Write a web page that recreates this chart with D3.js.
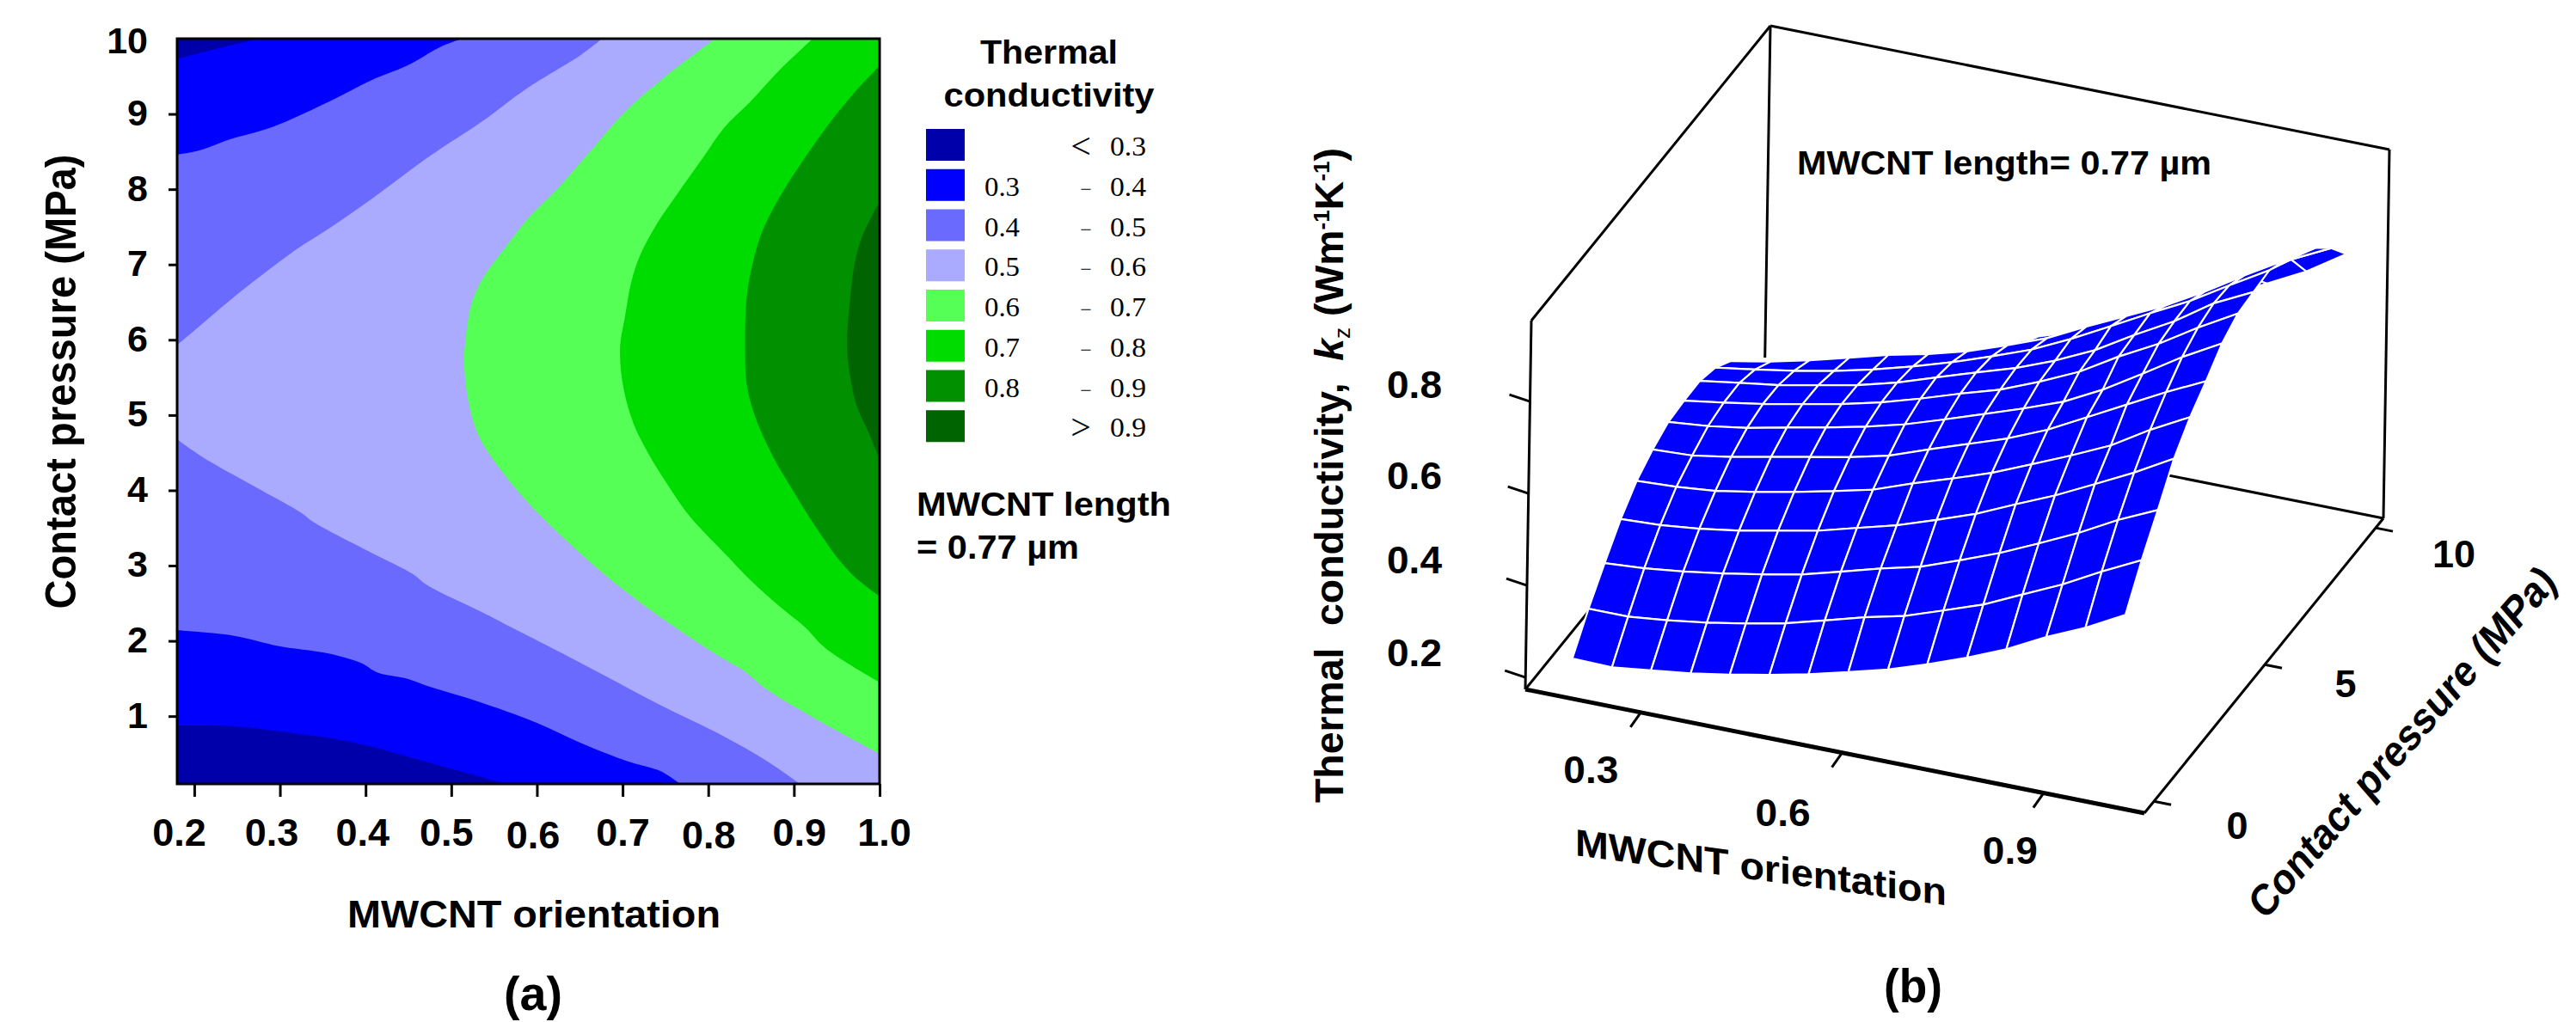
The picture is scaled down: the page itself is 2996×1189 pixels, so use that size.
<!DOCTYPE html>
<html>
<head>
<meta charset="utf-8">
<script src="https://cdn.jsdelivr.net/npm/d3@7"></script>
<style>
  html, body { margin: 0; background: #fff; }
  svg { display: block; }
  text { font-family: "Liberation Sans", Arial, sans-serif; font-weight: bold; fill: #000; }
  .serif { font-family: "Liberation Serif", serif; font-weight: normal; }
</style>
</head>
<body>
<div id="app"></div>
<script>
// contour map: level boundaries as [orientation, pressure]
let band3Top = [[.275,10],[.224,9.86],[.18,9.73]]
let band3Low = [[.18,.874],[.245,.866],[.312,.78],[.373,.68],[.414,.575],[.469,.40],[.516,.25],[.564,.1]]
let band4Top = [[.513,10],[.489,9.9],[.448,9.64],[.407,9.45],[.353,9.14],[.292,8.83],[.241,8.66],[.204,8.51],[.18,8.46]]
let band4Low = [[.18,2.14],[.245,2.07],[.299,1.93],[.353,1.84],[.394,1.71],[.414,1.58],[.448,1.5],[.475,1.39],[.53,1.2],[.598,.92],[.652,.64],[.706,.40],[.744,.27],[.767,.1]]
let band5Top = [[.676,10],[.652,9.79],[.587,9.33],[.536,8.9],[.475,8.44],[.407,7.87],[.36,7.5],[.319,7.2],[.278,6.85],[.238,6.49],[.207,6.19],[.18,5.93]]
let band5Low = [[.18,4.68],[.21,4.44],[.264,4.09],[.325,3.7],[.339,3.58],[.407,3.17],[.455,2.89],[.472,2.74],[.536,2.38],[.57,2.18],[.625,1.86],[.679,1.54],[.747,1.13],[.815,.75],[.869,.40],[.907,.1]]
let band6 = [[.808,10],[.747,9.47],[.703,9.03],[.659,8.46],[.625,8.02],[.591,7.63],[.564,7.24],[.536,6.8],[.523,6.45],[.516,5.93],[.515,5.71],[.52,5.18],[.533,4.7],[.564,4.18],[.601,3.7],[.676,2.91],[.74,2.35],[.815,1.78],[.842,1.6],[.869,1.35],[.923,.98],[1,.5]]
let band7 = [[.922,10],[.883,9.58],[.849,9.16],[.818,8.81],[.794,8.42],[.764,7.94],[.74,7.54],[.72,7.11],[.71,6.76],[.703,6.32],[.697,5.88],[.701,5.36],[.713,4.88],[.73,4.49],[.754,4.05],[.778,3.66],[.822,3.13],[.849,2.81],[.883,2.46],[.913,2.18],[.937,1.9],[1,1.45]]
let band8 = [[1,9.64],[.971,9.29],[.937,8.81],[.91,8.37],[.883,7.89],[.862,7.41],[.852,7.02],[.845,6.58],[.843,5.93],[.845,5.4],[.855,4.97],[.876,4.44],[.896,4.05],[.917,3.66],[.937,3.32],[.951,3.1],[.971,2.85],[1,2.59]]
let band9 = [[1,7.83],[.981,7.41],[.971,7.02],[.966,6.58],[.962,5.93],[.966,5.49],[.974,5.1],[.988,4.75],[1,4.4]]
let bands = [[band3Top, band3Low], [band4Top, band4Low], [band5Top, band5Low], [band6], [band7], [band8], [band9]]

let bandColors = ['#0000AA', '#0000FF', '#6A6AFF', '#AAAAFF', '#55FF55', '#00DC00', '#009000', '#006400']
let legendFrom = ['', '0.3', '0.4', '0.5', '0.6', '0.7', '0.8', '']
let legendSign = ['<', '-', '-', '-', '-', '-', '-', '>']
let legendTo = ['0.3', '0.4', '0.5', '0.6', '0.7', '0.8', '0.9', '0.9']

let orientationTicks = [.2, .3, .4, .5, .6, .7, .8, .9, 1]
let pressureTicks = [1, 2, 3, 4, 5, 6, 7, 8, 9, 10]

// surface: mesh lines and conductivity per pressure line (rows)
let surfaceOrientation = [.18, .239, .297, .356, .414, .473, .531, .59, .649, .707, .766, .824, .883, .941, 1]
let surfacePressure = [.1, .807, 1.514, 2.221, 2.929, 3.636, 4.343, 5.05, 5.757, 6.464, 7.171, 7.879, 8.586, 9.293, 10]
let surfaceK = [
  [.225, .223, .233, .244, .258, .275, .293, .315, .338, .366, .398, .433, .477, .514, .559],
  [.291, .291, .3, .312, .327, .345, .368, .392, .412, .441, .471, .51, .549, .594, .636],
  [.348, .354, .364, .377, .392, .409, .432, .456, .477, .508, .541, .579, .619, .664, .703],
  [.402, .406, .415, .428, .445, .462, .485, .508, .537, .567, .605, .641, .683, .725, .773],
  [.443, .447, .455, .47, .487, .506, .526, .557, .585, .614, .65, .686, .725, .776, .821],
  [.469, .473, .487, .504, .521, .538, .558, .589, .618, .647, .683, .727, .772, .816, .857],
  [.487, .495, .508, .526, .543, .562, .584, .612, .641, .67, .702, .745, .797, .85, .897],
  [.491, .504, .518, .535, .552, .573, .598, .626, .652, .686, .725, .775, .82, .872, .92],
  [.492, .505, .517, .534, .551, .574, .602, .63, .657, .69, .73, .78, .827, .883, .925],
  [.479, .492, .506, .523, .543, .567, .593, .623, .655, .695, .74, .785, .829, .88, .93],
  [.451, .467, .487, .51, .533, .552, .575, .605, .638, .68, .72, .76, .808, .86, .91],
  [.41, .43, .445, .46, .487, .512, .538, .568, .6, .64, .687, .73, .78, .83, .88],
  [.372, .388, .4, .42, .45, .475, .5, .54, .568, .61, .65, .7, .75, .8, .853],
  [.32, .345, .36, .382, .41, .435, .465, .495, .54, .575, .62, .665, .71, .768, .81],
  [.275, .283, .309, .334, .358, .383, .411, .447, .483, .523, .568, .614, .657, .7, .755]
]

let boxOrientationTicks = [.3, .6, .9]
let boxPressureTicks = [0, 5, 10]
let boxKTicks = [.2, .4, .6, .8]

const svg = d3.select('#app').append('svg')
  .attr('width', 2996)
  .attr('height', 1189)
  .attr('viewBox', '0 0 2996 1189')

// text with a fixed width because the labels of the original are stretched
let addText = (parent, str, x, y, size, width, cls) => {
  let t = parent.append('text')
    .attr('x', x)
    .attr('y', y)
    .attr('font-size', size)
    .attr('class', cls || null)
    .text(str)
  if (width) {
    t.attr('textLength', width).attr('lengthAdjust', 'spacingAndGlyphs')
  }
  return t
}

let drawContour = () => {
  const g = svg.append('g')
  const x = d3.scaleLinear().domain([.18, 1]).range([206, 1023])
  const y = d3.scaleLinear().domain([.1, 10]).range([912, 45])
  const line = d3.line().x(d => x(d[0])).y(d => y(d[1])).curve(d3.curveCatmullRom)

  g.append('rect')
    .attr('x', x(.18))
    .attr('y', y(10))
    .attr('width', x(1) - x(.18))
    .attr('height', y(.1) - y(10))
    .attr('fill', bandColors[0])

  // each band: its curved edges joined straight, then closed along the right side
  g.selectAll('path.band')
    .data(bands)
    .enter()
    .append('path')
    .attr('class', 'band')
    .attr('d', d => d.map(edge => line(edge)).join('L').replace(/LM/g, 'L') + `L${x(1)},${y(.1)}L${x(1)},${y(10)}Z`)
    .attr('fill', (d, i) => bandColors[i + 1])

  g.append('rect')
    .attr('x', x(.18))
    .attr('y', y(10))
    .attr('width', x(1) - x(.18))
    .attr('height', y(.1) - y(10))
    .attr('fill', 'none')
    .attr('stroke', '#000')
    .attr('stroke-width', 3)

  const yAxis = g.append('g')
    .attr('transform', `translate(${x(.18)},0)`)
    .call(d3.axisLeft(y).tickValues(pressureTicks).tickSize(10).tickPadding(24).tickFormat(d3.format('d')))
  yAxis.select('.domain').remove()
  yAxis.selectAll('.tick line').attr('stroke-width', 3)
    .attr('opacity', d => d === 10 ? 0 : 1)
  yAxis.selectAll('.tick text').attr('font-size', 43).attr('font-family', null)
    .attr('dy', d => d === 10 ? '0.38em' : '0.3em')

  // the labels of the original sit a bit off their ticks
  const xLabelShift = { 0.2: -18, 0.3: -10, 0.4: -4, 0.5: -6, 0.6: -5, 0.7: 0, 0.8: 0, 0.9: 6, 1: 5 }
  const xAxis = g.append('g')
    .attr('transform', `translate(0,${y(.1)})`)
    .call(d3.axisBottom(x).tickValues(orientationTicks).tickSize(15).tickFormat(d3.format('.1f')))
  xAxis.select('.domain').remove()
  xAxis.selectAll('.tick line').attr('stroke-width', 3)
  xAxis.selectAll('.tick text').attr('font-size', 45)
    .attr('y', d => d === .6 || d === .8 ? 75 : 72)
    .attr('dy', 0)
    .attr('dx', d => xLabelShift[d])

  addText(g, 'MWCNT orientation', 621, 1079, 44, 434).attr('text-anchor', 'middle')
  addText(g, '(a)', 620, 1175, 56, 68).attr('text-anchor', 'middle')
  addText(g, 'Contact pressure (MPa)', 0, 0, 50, 529)
    .attr('text-anchor', 'middle')
    .attr('transform', 'translate(88,444) rotate(-90)')
}

let drawLegend = () => {
  const g = svg.append('g')
  const row = d3.scaleBand().domain(d3.range(bandColors.length)).range([145, 519])

  addText(g, 'Thermal', 1220, 74, 38, 160).attr('text-anchor', 'middle')
  addText(g, 'conductivity', 1220, 124, 38, 245).attr('text-anchor', 'middle')

  g.selectAll('rect')
    .data(bandColors)
    .enter()
    .append('rect')
    .attr('x', 1077)
    .attr('y', (d, i) => row(i) + 5)
    .attr('width', 45)
    .attr('height', 37)
    .attr('fill', d => d)

  bandColors.forEach((c, i) => {
    let base = row(i) + 36
    addText(g, legendFrom[i], 1145, base, 32, legendFrom[i] ? 41 : 0, 'serif')
    if (legendSign[i] === '-') {
      addText(g, '\u2212', 1263, base, 24, 0, 'serif').attr('text-anchor', 'middle')
    } else {
      addText(g, legendSign[i], 1257, base + 3, 42, 0, 'serif').attr('text-anchor', 'middle')
    }
    addText(g, legendTo[i], 1291, base, 32, 42, 'serif')
  })

  addText(g, 'MWCNT length', 1066, 600, 38, 296)
  addText(g, '= 0.77 \u00b5m', 1066, 650, 38, 189)
}

let drawSurface = () => {
  const g = svg.append('g')
  const u = d3.scaleLinear().domain([.128, 1.05]).range([0, 1])
  const v = d3.scaleLinear().domain([-.43, 10.35]).range([0, 1])
  const w = d3.scaleLinear().domain([.174, .976]).range([0, 1])
  const xVec = [720, 144]
  const pVec = [278, -343]
  const zVec = [7, -429]
  const project = (o, p, k) => [
    1774 + u(o) * xVec[0] + v(p) * pVec[0] + w(k) * zVec[0],
    802 + u(o) * xVec[1] + v(p) * pVec[1] + w(k) * zVec[1]
  ]
  const [oMin, oMax] = u.domain()
  const [pMin, pMax] = v.domain()
  const [kMin, kMax] = w.domain()

  const edge = (a, b, width) => g.append('line')
    .attr('x1', a[0]).attr('y1', a[1])
    .attr('x2', b[0]).attr('y2', b[1])
    .attr('stroke', '#000')
    .attr('stroke-width', width || 3)

  // back of the box goes under the surface
  edge(project(oMin, pMin, kMin), project(oMin, pMax, kMin))
  edge(project(oMin, pMax, kMin), project(oMax, pMax, kMin))
  edge(project(oMin, pMax, kMin), project(oMin, pMax, kMax))

  // quads painted from far to near
  const line = d3.line()
  const cells = []
  for (let j = surfacePressure.length - 2; j >= 0; j--) {
    for (let i = 0; i < surfaceOrientation.length - 1; i++) {
      cells.push([
        project(surfaceOrientation[i], surfacePressure[j], surfaceK[j][i]),
        project(surfaceOrientation[i + 1], surfacePressure[j], surfaceK[j][i + 1]),
        project(surfaceOrientation[i + 1], surfacePressure[j + 1], surfaceK[j + 1][i + 1]),
        project(surfaceOrientation[i], surfacePressure[j + 1], surfaceK[j + 1][i])
      ])
    }
  }
  g.selectAll('path.cell')
    .data(cells)
    .enter()
    .append('path')
    .attr('class', 'cell')
    .attr('d', d => line(d) + 'Z')
    .attr('fill', '#0000FF')
    .attr('stroke', '#fff')
    .attr('stroke-width', 2.2)

  edge(project(oMin, pMin, kMin), project(oMin, pMin, kMax))
  edge(project(oMin, pMin, kMax), project(oMin, pMax, kMax))
  edge(project(oMin, pMax, kMax), project(oMax, pMax, kMax))
  edge(project(oMax, pMax, kMax), project(oMax, pMax, kMin))
  edge(project(oMax, pMax, kMin), project(oMax, pMin, kMin))
  edge(project(oMin, pMin, kMin), project(oMax, pMin, kMin), 5)

  boxOrientationTicks.forEach(t => {
    let a = project(t, pMin, kMin)
    edge(a, [a[0] - 12, a[1] + 17])
  })
  boxPressureTicks.forEach(t => {
    let a = project(oMax, t, kMin)
    edge(a, [a[0] + 20, a[1] + 4])
  })
  boxKTicks.forEach(t => {
    let a = project(oMin, pMin, t)
    edge(a, [a[0] - 24, a[1] - 8])
  })

  // tick labels, nudged per label like the original
  const oShift = { 0.3: [-58, 82], 0.6: [-69, 85], 0.9: [-39, 82] }
  boxOrientationTicks.forEach(t => {
    let a = project(t, pMin, kMin)
    addText(g, d3.format('.1f')(t), a[0] + oShift[t][0], a[1] + oShift[t][1], 45, 64).attr('text-anchor', 'middle')
  })
  const pShift = { 0: [97, 44], 5: [94, 38], 10: [91, 46] }
  boxPressureTicks.forEach(t => {
    let a = project(oMax, t, kMin)
    addText(g, String(t), a[0] + pShift[t][0], a[1] + pShift[t][1], 45).attr('text-anchor', 'middle')
  })
  const kShift = { 0.2: -13, 0.4: -14, 0.6: -5, 0.8: -4 }
  boxKTicks.forEach(t => {
    let a = project(oMin, pMin, t)
    addText(g, d3.format('.1f')(t), 1645, a[1] + kShift[t], 45, 64).attr('text-anchor', 'middle')
  })

  addText(g, 'MWCNT length= 0.77 \u00b5m', 2090, 203, 39, 482)
  addText(g, '(b)', 2225, 1166, 56, 68).attr('text-anchor', 'middle')

  // sheared axis titles
  addText(g, 'MWCNT orientation', 0, 0, 44, 432)
    .attr('transform', 'translate(1832,995) skewY(7.7)')
  addText(g, 'Contact pressure (MPa)', 0, 0, 48, 520)
    .attr('transform', 'translate(2634,1072) rotate(-49) skewX(-8)')

  const title = g.append('text')
    .attr('text-anchor', 'middle')
    .attr('font-size', 46)
    .attr('textLength', 762)
    .attr('lengthAdjust', 'spacingAndGlyphs')
    .attr('transform', 'translate(1562,553) rotate(-90)')
  title.append('tspan').text('Thermal  conductivity,  ').attr('xml:space', 'preserve')
  title.append('tspan').text('k').attr('font-style', 'italic')
  title.append('tspan').text('z').attr('font-size', 26).attr('font-weight', 'normal').attr('dy', 8)
  title.append('tspan').text(' (Wm').attr('dy', -8)
  title.append('tspan').text('-1').attr('font-size', 26).attr('dy', -16)
  title.append('tspan').text('K').attr('dy', 16)
  title.append('tspan').text('-1').attr('font-size', 26).attr('dy', -16)
  title.append('tspan').text(')').attr('dy', 16)
}

drawContour()
drawLegend()
drawSurface()
</script>
</body>
</html>
